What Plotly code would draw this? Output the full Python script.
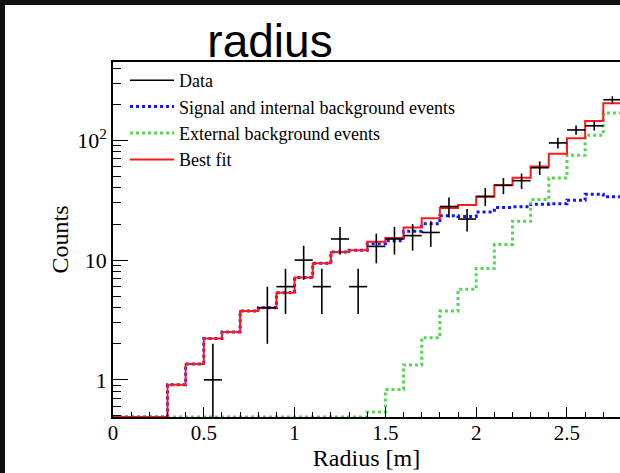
import numpy as np
import plotly.graph_objects as go

# ---------------- data ----------------
bin_edges = [round(0.1 * i, 1) for i in range(29)]  # 0.0 .. 2.8 m

best_fit = [0, 0, 0, 0.91, 1.36, 2.21, 2.51, 3.76, 4.0, 5.34, 7.15, 9.4, 11.7, 12.1,
            14.2, 15.3, 18.7, 22.3, 27.2, 28.8, 33.8, 42.4, 48.7, 60.3, 77, 104, 145, 204]
signal_internal = [0, 0, 0, 0.91, 1.36, 2.21, 2.51, 3.76, 4.0, 5.34, 7.15, 9.4, 11.7, 12.1,
                   13.7, 14.5, 17.4, 20.1, 23.4, 23.1, 25.2, 27.5, 27.8, 29.2, 29.5, 31.5, 35.5, 33.7]
external_bkg = [0, 0, 0, 0, 0, 0, 0, 0, 0, 0, 0, 0, 0, 0,
                0.54, 0.83, 1.33, 2.25, 3.76, 5.7, 8.5, 13.5, 21.1, 32, 48.5, 75, 110, 169]
data_counts = [0, 0, 0, 0, 0, 1, 0, 0, 4, 6, 10, 6, 15, 6,
               13, 15, 16, 17, 28, 22, 34, 42, 46, 59, 95, 122, 132, 218]

x_tickvals = [0, 0.5, 1, 1.5, 2, 2.5]
x_ticktext = ["0", "0.5", "1", "1.5", "2", "2.5"]
y_tickvals = [1, 10, 100]
y_ticktext = ["1", "10", "10<sup>2</sup>"]

title_text = "radius"
x_title = "Radius [m]"
y_title = "Counts"

# ---------------- layout constants ----------------
W, H = 620, 473
ML, MR, MT, MB = 113, 0, 62, 56
YMIN, YMAX = 0.49, 450
XMAX = 2.792

serif = "Liberation Serif, Times New Roman, serif"


def step_xy(values):
    v = np.array(values, dtype=float)
    v = np.where(v > YMIN, v, YMIN * 0.999)
    xs = list(bin_edges[:-1]) + [bin_edges[-1]]
    ys = list(v) + [v[-1]]
    return xs, ys


fig = go.Figure()

xb, yb = step_xy(signal_internal)
fig.add_trace(go.Scatter(x=xb, y=yb, mode="lines", line_shape="hv",
                         line=dict(color="#1414ff", width=3, dash="dot"),
                         name="Signal and internal background events",
                         legendrank=2, legendgroup="b"))
xg, yg = step_xy(external_bkg)
fig.add_trace(go.Scatter(x=xg, y=yg, mode="lines", line_shape="hv",
                         line=dict(color="#55d655", width=3, dash="dot"),
                         name="External background events",
                         legendrank=3, legendgroup="c"))
xr, yr = step_xy(best_fit)
fig.add_trace(go.Scatter(x=xr, y=yr, mode="lines", line_shape="hv",
                         line=dict(color="#ff1a1a", width=2),
                         name="Best fit", legendrank=4, legendgroup="d"))

# data points with Poisson errors
centers = [(bin_edges[i] + bin_edges[i + 1]) / 2 for i in range(len(data_counts))]
dx, dy, ep, em = [], [], [], []
for c, n in zip(centers, data_counts):
    if n > 0:
        e = float(np.sqrt(n))
        dx.append(c)
        dy.append(n)
        ep.append(e)
        em.append(min(e, n - YMIN * 0.9))
fig.add_trace(go.Scatter(x=dx, y=dy, mode="markers",
                         marker=dict(size=1, color="black"),
                         error_y=dict(type="data", array=ep, arrayminus=em,
                                      color="black", thickness=1.6, width=0),
                         error_x=dict(type="constant", value=0.05,
                                      color="black", thickness=1.6, width=0),
                         showlegend=False))
# legend entry for data (line sample)
fig.add_trace(go.Scatter(x=[None], y=[None], mode="lines",
                         line=dict(color="black", width=1.6),
                         name="Data", legendrank=1, legendgroup="a"))

pw = W - ML - MR
ph = H - MT - MB


def px2x(p):
    return (p - ML) / pw


def px2y(p):
    return (H - MB - p) / ph


# black window frame at top and left
fig.add_shape(type="rect", xref="paper", yref="paper",
              x0=px2x(0), x1=px2x(620), y0=px2y(5), y1=px2y(0),
              fillcolor="#111111", line_width=0, layer="above")
fig.add_shape(type="rect", xref="paper", yref="paper",
              x0=px2x(0), x1=px2x(5), y0=px2y(473), y1=px2y(0),
              fillcolor="#111111", line_width=0, layer="above")

minor_y = [v * 10 ** d for d in range(-1, 3) for v in range(2, 10)]
minor_y = [v for v in minor_y if YMIN <= v <= YMAX and v not in y_tickvals]

fig.update_layout(
    width=W, height=H,
    margin=dict(l=ML, r=MR, t=MT, b=MB, pad=0),
    paper_bgcolor="white", plot_bgcolor="white",
    title=dict(text=title_text, x=270 / W, xanchor="center", xref="container",
               y=1 - 41 / H, yanchor="middle", yref="container",
               font=dict(family="Liberation Sans, Arial, sans-serif", size=46, color="black")),
    showlegend=True,
    legend=dict(x=px2x(125), y=px2y(62), xanchor="left", yanchor="top",
                bgcolor="rgba(0,0,0,0)", borderwidth=0,
                font=dict(family=serif, size=18, color="black"),
                itemwidth=44, tracegroupgap=0, traceorder="normal"),
    xaxis=dict(range=[0, XMAX], showgrid=False, zeroline=False,
               showline=True, linecolor="black", linewidth=1.5, mirror=True,
               ticks="inside", ticklen=10, tickwidth=1, tickcolor="black",
               tickvals=x_tickvals, ticktext=x_ticktext,
               minor=dict(ticks="inside", ticklen=5, tickwidth=1, tickcolor="black",
                          dtick=0.1, tick0=0),
               ticklabelstandoff=-4,
               tickfont=dict(family=serif, size=21, color="black"),
               title=dict(text=x_title, font=dict(family=serif, size=24, color="black"),
                          standoff=4)),
    yaxis=dict(type="log", range=[np.log10(YMIN), np.log10(YMAX)],
               showgrid=False, zeroline=False,
               showline=True, linecolor="black", linewidth=1.5,
               ticks="inside", ticklen=15, tickwidth=1, tickcolor="black",
               tickvals=y_tickvals, ticktext=y_ticktext,
               minor=dict(ticks="inside", ticklen=8, tickwidth=1, tickcolor="black",
                          tickvals=minor_y),
               tickfont=dict(family=serif, size=22, color="black"),
               title=dict(text=y_title, font=dict(family=serif, size=24, color="black"),
                          standoff=2)),
)

fig.write_html("out.html")
